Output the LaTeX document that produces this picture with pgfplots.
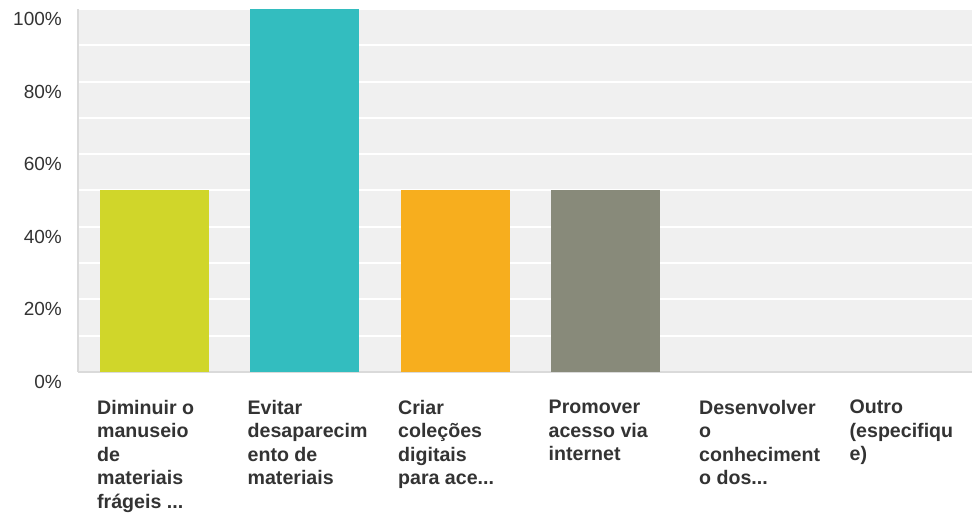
\documentclass[border=0pt]{standalone}
\usepackage{pgfplots}
\pgfplotsset{compat=1.18}
\usepackage{fontspec}
\setmainfont{Liberation Sans}
\definecolor{bg}{HTML}{F0F0F0}
\definecolor{axisgray}{HTML}{DADADA}
\definecolor{txt}{HTML}{333333}
\definecolor{c1}{HTML}{D0D62A}
\definecolor{c2}{HTML}{33BDBF}
\definecolor{c3}{HTML}{F7AE1E}
\definecolor{c4}{HTML}{888A7A}
\newcommand\ddd{.\kern0pt.\kern0pt.}
\begin{document}
\begin{tikzpicture}[x=1pt,y=1pt]
\useasboundingbox (0,0) rectangle (972,513);
\begin{axis}[
  at={(78pt,141pt)}, anchor=south west,
  scale only axis, width=894pt, height=363pt,
  xmin=-0.508, xmax=5.432, ymin=0, ymax=100,
  ybar, bar width=109pt,
  xtick={0,1,2,3,4,5},
  xticklabels={{Diminuir o\\manuseio\\de\\materiais\\frágeis \ddd},
               {Evitar\\desaparecim\\ento de\\materiais},
               {Criar\\coleções\\digitais\\para ace\ddd},
               {Promover\\acesso via\\internet},
               {Desenvolver\\o\\conheciment\\o dos\ddd},
               {Outro\\(especifiqu\\e)}},
  ytick={0,20,40,60,80,100},
  minor ytick={10,30,50,70,90},
  yticklabel={\pgfmathprintnumber{\tick}\%},
  /pgf/number format/assume math mode=true,
  ymajorgrids, yminorgrids,
  major grid style={white, line width=2pt},
  minor grid style={white, line width=2pt},
  axis background/.style={fill=bg},
  axis x line*=bottom, axis y line*=left,
  axis line style={-, draw=axisgray, line width=2pt},
  major tick length=0pt, minor tick length=0pt,
  tick style={draw=none},
  xticklabel style={anchor=north west, align=left, inner sep=0pt,
    xshift=-57.5pt, yshift=-28pt, font=\fontsize{19.6}{23.5}\selectfont\bfseries, text=txt},
  yticklabel style={anchor=east, inner sep=0pt, xshift=-16pt, yshift=-10pt,
    font=\fontsize{19}{23}\selectfont, text=txt},
]
\addplot[fill=c1, draw=none, bar shift=0pt] coordinates {(0,50)};
\addplot[fill=c2, draw=none, bar shift=0pt] coordinates {(1,100)};
\addplot[fill=c3, draw=none, bar shift=0pt] coordinates {(2,50)};
\addplot[fill=c4, draw=none, bar shift=0pt] coordinates {(3,50)};
\addplot[fill=none, draw=none, bar shift=0pt] coordinates {(4,0) (5,0)};
\end{axis}
\end{tikzpicture}
\end{document}
